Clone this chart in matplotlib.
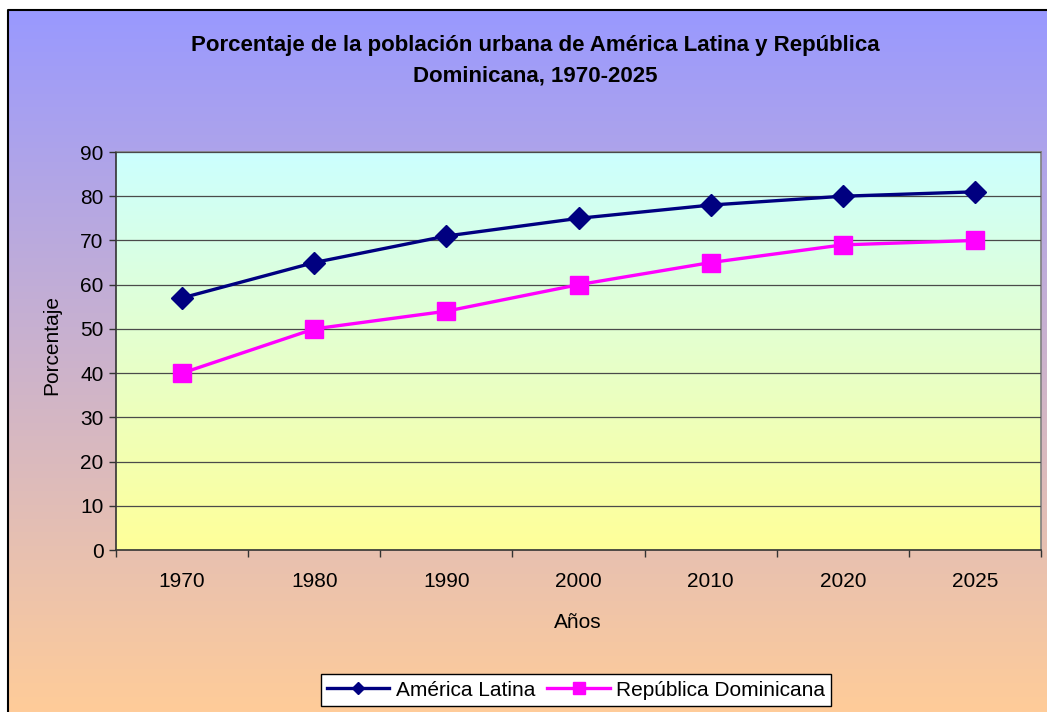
import numpy as np
import matplotlib
matplotlib.use("Agg")
import matplotlib.pyplot as plt
from matplotlib.colors import LinearSegmentedColormap
from matplotlib.lines import Line2D

years = ["1970", "1980", "1990", "2000", "2010", "2020", "2025"]
america_latina = [57, 65, 71, 75, 78, 80, 81]
rep_dominicana = [40, 50, 54, 60, 65, 69, 70]
yticks = [0, 10, 20, 30, 40, 50, 60, 70, 80, 90]

plt.rcParams['font.family'] = ['Liberation Sans', 'DejaVu Sans']

W, H = 1047, 712
fig = plt.figure(figsize=(W / 100, H / 100), dpi=100)
fig.patch.set_facecolor('white')

# chart-area gradient background
bx0, btop = 8 / W, 1 - 10 / H
bg = fig.add_axes([bx0, 0, 1 - bx0, btop], zorder=-5)
bg.set_axis_off()
cmap_bg = LinearSegmentedColormap.from_list('bg', ['#9999FF', '#FFCC99'])
grad = np.linspace(0, 1, 256).reshape(-1, 1)
bg.imshow(grad, aspect='auto', cmap=cmap_bg, extent=[0, 1, 0, 1], origin='upper')
bg.set_xlim(0, 1); bg.set_ylim(0, 1)
fig.lines.append(Line2D([bx0, bx0, 1.0], [0, btop, btop], transform=fig.transFigure,
                        color='black', linewidth=1.5, zorder=10))

# plot area
left, right, top, bottom = 116, 1041, 152, 550
ax = fig.add_axes([left / W, 1 - bottom / H, (right - left) / W, (bottom - top) / H])
cmap_pa = LinearSegmentedColormap.from_list('pa', ['#CCFFFF', '#FFFF99'])
ax.imshow(grad, aspect='auto', cmap=cmap_pa, extent=[0, 1, 0, 1], origin='upper',
          transform=ax.transAxes, zorder=0)

x = np.arange(len(years))
ax.plot(x, america_latina, color='#000080', linewidth=2.4, marker='D', markersize=11,
        label='América Latina', zorder=3)
ax.plot(x, rep_dominicana, color='#FF00FF', linewidth=2.4, marker='s', markersize=13.5,
        label='República Dominicana', zorder=3)

ax.set_xlim(-0.5, len(years) - 0.5)
ax.set_ylim(0, 90)
ax.set_yticks(yticks)
ax.yaxis.grid(True, color='#4a4a4a', linewidth=0.9)
ax.set_axisbelow(False)
for gl in ax.get_ygridlines():
    gl.set_zorder(1)

ax.set_xticks(x)
ax.set_xticklabels(years)
ax.set_xticks(np.arange(-0.5, len(years)), minor=True)
ax.tick_params(axis='x', which='major', length=0, pad=16, labelsize=15)
ax.tick_params(axis='x', which='minor', length=5, width=1, color='#333333')
ax.tick_params(axis='y', length=5, width=1, color='#333333', pad=4, labelsize=15)

for s in ['left', 'bottom']:
    ax.spines[s].set_color('#333333')
    ax.spines[s].set_linewidth(1.2)
for s in ['top', 'right']:
    ax.spines[s].set_color('#808080')
    ax.spines[s].set_linewidth(1.2)

fig.text(578 / W, 1 - 622 / H, 'Años', ha='center', va='center', fontsize=15)
fig.text(52 / W, 1 - 345 / H, 'Porcentaje', ha='center', va='center', rotation=90, fontsize=15)
fig.text(535 / W, 1 - 46 / H, 'Porcentaje de la población urbana de América Latina y República',
         ha='center', va='center', fontsize=16, fontweight='bold')
fig.text(535 / W, 1 - 76 / H, 'Dominicana, 1970-2025',
         ha='center', va='center', fontsize=16, fontweight='bold')

leg = fig.legend(loc='center', bbox_to_anchor=(576 / W, 1 - 690 / H), ncol=2, frameon=True,
                 fontsize=15, fancybox=False, edgecolor='black', framealpha=1,
                 handlelength=3.0, handletextpad=0.3, columnspacing=0.6,
                 borderpad=0.3, markerscale=0.6)
leg.get_frame().set_linewidth(1.0)

fig.savefig('out.png', dpi=100)
